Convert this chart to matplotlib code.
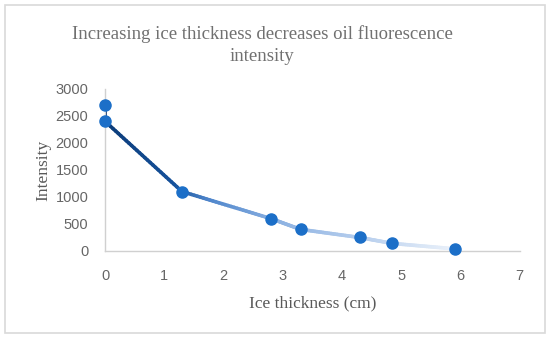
import numpy as np
import matplotlib
matplotlib.use("Agg")
import matplotlib.pyplot as plt
from matplotlib.collections import LineCollection
from matplotlib.colors import LinearSegmentedColormap
from matplotlib.patches import Rectangle

thickness = [0.0, 0.0, 1.3, 2.8, 3.3, 4.3, 4.85, 5.9]
intensity = [2700, 2400, 1100, 600, 400, 250, 140, 40]
x_ticks = [0, 1, 2, 3, 4, 5, 6, 7]
y_ticks = [0, 500, 1000, 1500, 2000, 2500, 3000]
title = "Increasing ice thickness decreases oil fluorescence\nintensity"
xlabel = "Ice thickness (cm)"
ylabel = "Intensity"

fig = plt.figure(figsize=(5.5, 3.39), dpi=100)
ax = fig.add_axes([0.191, 0.2596, 0.754, 0.478])

# gradient line
cmap = LinearSegmentedColormap.from_list(
    "g", [(0, "#0b3b78"), (0.2, "#16529c"), (0.3, "#4f86cc"), (0.5, "#8db2e2"),
          (0.75, "#b9d0ee"), (1, "#eaf1fa")])
xs, ys = [], []
for i in range(len(thickness) - 1):
    t = np.linspace(0, 1, 30)
    xs.append(thickness[i] + (thickness[i+1] - thickness[i]) * t)
    ys.append(intensity[i] + (intensity[i+1] - intensity[i]) * t)
xs = np.concatenate(xs); ys = np.concatenate(ys)
pts = np.array([xs, ys]).T.reshape(-1, 1, 2)
segs = np.concatenate([pts[:-1], pts[1:]], axis=1)
tot = max(thickness)
cvals = (xs[:-1] + xs[1:]) / 2 / tot
lc = LineCollection(segs, cmap=cmap, linewidths=2.6, capstyle='round', joinstyle='round')
lc.set_array(cvals)
lc.set_clim(0, 1)
ax.add_collection(lc)
ax.plot(thickness, intensity, 'o', color="#1c6fc8", markersize=8, zorder=3, clip_on=False)

ax.set_xlim(0, 7)
ax.set_ylim(0, 3000)
ax.set_xticks(x_ticks)
ax.set_yticks(y_ticks)
for s in ['top', 'right']:
    ax.spines[s].set_visible(False)
for s in ['left', 'bottom']:
    ax.spines[s].set_color("#d0d0d0")
    ax.spines[s].set_linewidth(1.0)
ax.tick_params(length=0, labelsize=10.5, labelcolor="#666666")
ax.tick_params(axis='x', pad=13)
ax.tick_params(axis='y', pad=12)
for lab in ax.get_xticklabels() + ax.get_yticklabels():
    lab.set_family("Liberation Sans")

fig.text(0.477, 0.866, title, ha='center', va='center', fontsize=13.5,
         family="Liberation Serif", color="#707070", linespacing=1.4)
ax.set_xlabel(xlabel, fontsize=12.5, family="Liberation Serif", color="#595959", labelpad=9)
ax.set_ylabel(ylabel, fontsize=12.5, family="Liberation Serif", color="#595959", labelpad=3)

fig.patches.append(Rectangle((5/550, 6/339), 540/550, 328/339, transform=fig.transFigure,
                             fill=False, edgecolor="#d9d9d9", linewidth=1.2))
fig.savefig("out.png", dpi=100, facecolor="white")
